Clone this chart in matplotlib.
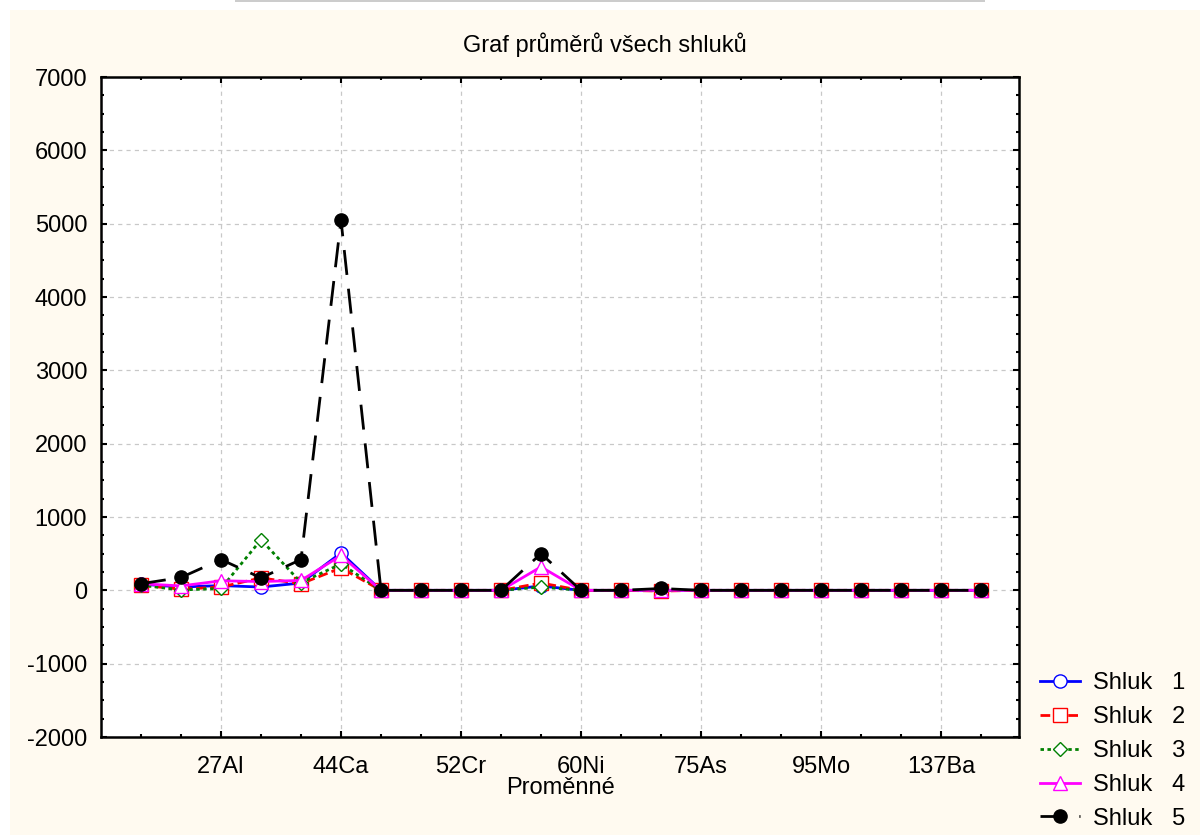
import numpy as np
import matplotlib
matplotlib.use("Agg")
import matplotlib.pyplot as plt
from matplotlib.patches import Rectangle
from matplotlib.ticker import FixedLocator, MultipleLocator

plt.rcParams['font.family'] = ['Liberation Sans', 'DejaVu Sans']
plt.rcParams['lines.scale_dashes'] = False
plt.rcParams['axes.unicode_minus'] = False

# 22 variables, only every third one is labelled on the axis
tick_labels = ["", "", "27Al", "", "", "44Ca", "", "", "52Cr", "", "", "60Ni",
               "", "", "75As", "", "", "95Mo", "", "", "137Ba", ""]

shluk_1 = [85, 45, 65, 45, 100, 510, 0, 0, 0, 0, 60, 0, 0, 0, 0, 0, 0, 0, 0, 0, 0, 0]
shluk_2 = [70, 15, 45, 170, 90, 305, 0, 0, 0, 0, 100, 0, 0, -10, 0, 0, 0, 0, 0, 0, 0, 0]
shluk_3 = [70, 5, 25, 690, 105, 360, 0, 0, 0, 0, 45, 0, 0, 0, 0, 0, 0, 0, 0, 0, 0, 0]
shluk_4 = [90, 60, 130, 120, 135, 475, 0, 0, 0, 0, 320, 0, 0, 0, 0, 0, 0, 0, 0, 0, 0, 0]
shluk_5 = [90, 175, 420, 170, 420, 5050, 0, 0, 0, 0, 500, 0, 0, 25, 0, 0, 0, 0, 0, 0, 0, 0]

series_labels = ["Shluk   1", "Shluk   2", "Shluk   3", "Shluk   4", "Shluk   5"]

W, H = 1200, 835
fig = plt.figure(figsize=(W / 100, H / 100), dpi=100, facecolor="white")
fig.patches.append(Rectangle((10 / W, 0), 1 - 10 / W, 1 - 10 / H, transform=fig.transFigure,
                             facecolor="#FFFAF0", edgecolor="none", zorder=-10))
fig.patches.append(Rectangle((235 / W, 1 - 2 / H), 750 / W, 2 / H, transform=fig.transFigure,
                             facecolor="#CCCCCC", edgecolor="none", zorder=-9))

ax = fig.add_axes([101 / W, 1 - 737 / H, (1019 - 101) / W, (737 - 77) / H])
ax.set_facecolor("white")

x = np.arange(len(tick_labels))
ms = 9.5
lw = 2.0
ax.plot(x, shluk_1, color="#0000FF", lw=lw, marker="o", ms=ms, mfc="white", mec="#0000FF", mew=1,
        label=series_labels[0])
ax.plot(x, shluk_2, color="#FF0000", lw=lw, dashes=(7, 3), marker="s", ms=ms, mfc="white", mec="#FF0000",
        mew=1, label=series_labels[1])
ax.plot(x, shluk_3, color="#008000", lw=lw, dashes=(2.5, 2.5), marker="D", ms=7.5, mfc="white",
        mec="#008000", mew=1, label=series_labels[2])
ax.plot(x, shluk_4, color="#FF00FF", lw=lw, marker="^", ms=ms, mfc="white", mec="#FF00FF", mew=1,
        label=series_labels[3])
ax.plot(x, shluk_5, color="black", lw=lw, dashes=(18, 10), marker="o", ms=ms, mfc="black", mec="black",
        label=series_labels[4])

ax.set_xlim(-1, 21.95)
ax.set_ylim(-2000, 7000)

major_idx = [i for i, t in enumerate(tick_labels) if t]
minor_idx = [i for i, t in enumerate(tick_labels) if not t]
ax.xaxis.set_major_locator(FixedLocator(major_idx))
ax.xaxis.set_minor_locator(FixedLocator(minor_idx))
ax.set_xticklabels([tick_labels[i] for i in major_idx])
ax.yaxis.set_major_locator(MultipleLocator(1000))
ax.yaxis.set_minor_locator(MultipleLocator(250))

ax.grid(True, which="major", color="#C8C8C8", linestyle=(0, (3, 3)), linewidth=0.9)
ax.set_axisbelow(True)

ax.tick_params(axis="both", which="both", direction="in", top=True, right=True, width=1.5,
               labelsize=17, colors="black")
ax.tick_params(axis="both", which="major", length=4.5)
ax.tick_params(axis="both", which="minor", length=2.5)
ax.tick_params(axis="x", which="major", pad=14)
ax.tick_params(axis="y", which="major", pad=10)
for sp in ax.spines.values():
    sp.set_linewidth(1.8)
    sp.set_color("black")

fig.text(605 / W, 1 - 45 / H, "Graf průměrů všech shluků", ha="center", va="center", fontsize=17)
fig.text(561 / W, 1 - 788 / H, "Proměnné", ha="center", va="center", fontsize=17)

handles, labels = ax.get_legend_handles_labels()
fig.legend(handles, labels, loc="center left", bbox_to_anchor=(1040 / W, 1 - 751 / H),
           frameon=False, fontsize=17, handlelength=1.7, handletextpad=0.55, labelspacing=0.5,
           borderaxespad=0, borderpad=0)

fig.savefig("out.png", dpi=100, facecolor=fig.get_facecolor())
